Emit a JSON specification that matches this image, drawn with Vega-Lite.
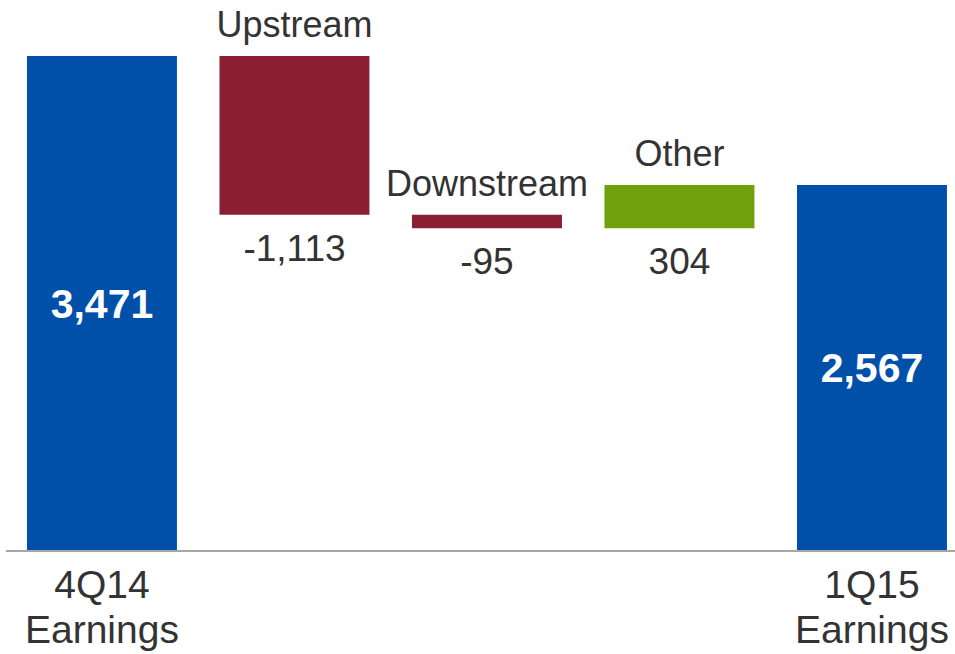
{
  "$schema": "https://vega.github.io/schema/vega-lite/v6.json",
  "width": 955,
  "height": 654,
  "padding": 0,
  "autosize": {"type": "none"},
  "background": "white",
  "config": {"view": {"stroke": null}, "font": "Liberation Sans"},
  "data": {
    "values": [
      {"cat": "4Q14 Earnings", "start": 0, "end": 3471, "kind": "total", "inner": "3,471", "name": "", "amount": "", "axisLabel": "4Q14\nEarnings"},
      {"cat": "Upstream", "start": 3471, "end": 2358, "kind": "decrease", "inner": "", "name": "Upstream", "amount": "-1,113", "axisLabel": ""},
      {"cat": "Downstream", "start": 2358, "end": 2263, "kind": "decrease", "inner": "", "name": "Downstream", "amount": "-95", "axisLabel": ""},
      {"cat": "Other", "start": 2263, "end": 2567, "kind": "increase", "inner": "", "name": "Other", "amount": "304", "axisLabel": ""},
      {"cat": "1Q15 Earnings", "start": 0, "end": 2567, "kind": "total", "inner": "2,567", "name": "", "amount": "", "axisLabel": "1Q15\nEarnings"}
    ]
  },
  "transform": [
    {"calculate": "(datum.start + datum.end) / 2", "as": "mid"},
    {"calculate": "max(datum.start, datum.end)", "as": "top"},
    {"calculate": "min(datum.start, datum.end)", "as": "bot"}
  ],
  "encoding": {
    "x": {
      "field": "cat",
      "type": "nominal",
      "sort": null,
      "axis": null,
      "scale": {"paddingInner": 0.221, "paddingOuter": 0.091, "align": 0.77}
    }
  },
  "layer": [
    {
      "mark": {"type": "bar", "tooltip": false},
      "encoding": {
        "y": {"field": "start", "type": "quantitative", "axis": null, "scale": {"domain": [-722, 3864], "nice": false, "zero": false}},
        "y2": {"field": "end"},
        "color": {
          "field": "kind",
          "type": "nominal",
          "legend": null,
          "scale": {"domain": ["total", "decrease", "increase"], "range": ["#0050AA", "#8A1F34", "#6EA10A"]}
        }
      }
    },
    {
      "mark": {"type": "rule", "color": "#A6A6A6", "strokeWidth": 2},
      "encoding": {"y": {"datum": 0, "type": "quantitative"}, "x": {"value": 6}, "x2": {"value": 955}}
    },
    {
      "transform": [{"filter": "datum.kind === 'total'"}],
      "mark": {"type": "text", "fontSize": 41, "fontWeight": "bold", "color": "white", "baseline": "middle", "align": "center", "dy": 2},
      "encoding": {"y": {"field": "mid", "type": "quantitative"}, "text": {"field": "inner"}}
    },
    {
      "transform": [{"filter": "datum.kind !== 'total'"}],
      "mark": {"type": "text", "fontSize": 36, "color": "#333333", "baseline": "alphabetic", "align": "center", "dy": -19},
      "encoding": {"y": {"field": "top", "type": "quantitative"}, "text": {"field": "name"}}
    },
    {
      "transform": [{"filter": "datum.kind !== 'total'"}],
      "mark": {"type": "text", "fontSize": 37, "color": "#333333", "baseline": "alphabetic", "align": "center", "dy": 46},
      "encoding": {"y": {"field": "bot", "type": "quantitative"}, "text": {"field": "amount"}}
    },
    {
      "transform": [{"filter": "datum.kind === 'total'"}],
      "mark": {"type": "text", "fontSize": 39, "color": "#333333", "baseline": "alphabetic", "align": "center", "dy": 47, "lineBreak": "\n", "lineHeight": 45},
      "encoding": {"y": {"datum": 0, "type": "quantitative"}, "text": {"field": "axisLabel"}}
    }
  ]
}
